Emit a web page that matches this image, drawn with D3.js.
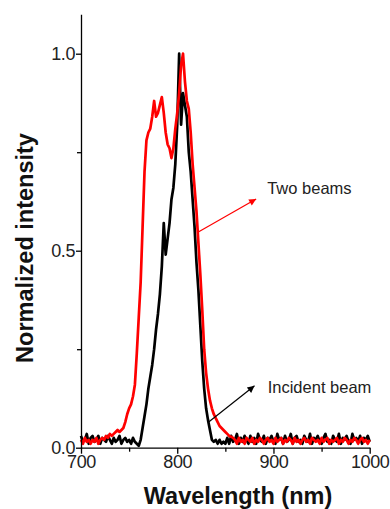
<!DOCTYPE html>
<html>
	<head>
		<meta charset="utf-8">
		<script type="text/javascript" src="https://cdn.jsdelivr.net/npm/d3@7/dist/d3.min.js"></script>
		<style>
			body { margin: 0; background: #fff; }
			text { font-family: "Liberation Sans", Arial, sans-serif; }
		</style>
	</head>
<body>
	<script type="text/javascript">
		// spectra sampled every 2 nm, 700 ... 1000
		var wavelengths = d3.range(700, 1001, 2);

		// "Two beams" (red)
		var twoBeams = [
			// 700 - 750
			.02, .01, .025, .015, .02, .01, .02, .015, .025, .01, .02, .025, .02,
			.03, .025, .035, .03, .035, .04, .045, .04, .045, .05, .065, .085, .10,
			// 752 - 858
			.11, .13, .16, .24, .33, .42, .56, .70, .78, .80,
			.81, .84, .88, .84, .85, .87, .89, .85, .80, .77,
			.76, .735, .76, .81, .85, .90, .97, 1.0, .93, .88,
			.86, .80, .72, .66, .60, .52, .44, .35, .25, .19,
			.15, .12, .10, .085, .075, .065, .055, .05, .045, .04,
			.035, .03, .028, .025,
			// 860 - 1000
			.02, .01, .025, .015, .02, .01, .025, .02, .015, .025,
			.01, .02, .015, .025, .02, .01, .02, .025, .015, .02,
			.01, .025, .015, .02, .025, .01, .02, .015, .025, .02,
			.01, .025, .015, .02, .01, .02, .025, .015, .02, .01,
			.025, .02, .015, .02, .01, .025, .015, .02, .025, .01,
			.02, .015, .02, .025, .01, .02, .015, .025, .02, .01,
			.02, .015, .025, .02, .01, .02, .025, .015, .02, .01,
			.02
		];

		// "Incident beam" (black)
		var incident = [
			// 700 - 756
			.03, .015, .02, .035, .01, .025, .03, .015, .02, .03,
			.01, .025, .02, .015, .03, .02, .01, .025, .015, .02,
			.03, .01, .02, .025, .015, .02, .01, .025, .015,
			// 758 - 850
			.01, .005, .02, .05, .08, .11, .15, .18, .21, .25,
			.30, .34, .39, .46, .57, .49, .53, .57, .63, .66,
			.72, .82, 1.0, .82, .90, .87, .84, .75, .70, .63,
			.56, .47, .40, .31, .22, .15, .10, .07, .045, .02,
			.015, .02, .01, .02, .01, .015, .01,
			// 852 - 1000
			.025, .01, .03, .015, .02, .035, .01, .025, .015, .03,
			.02, .01, .03, .015, .025, .01, .035, .02, .015, .03,
			.01, .025, .02, .03, .015, .01, .035, .02, .025, .01,
			.03, .015, .02, .035, .01, .025, .03, .015, .02, .01,
			.03, .02, .015, .035, .01, .025, .02, .03, .015, .01,
			.025, .035, .015, .02, .01, .03, .02, .015, .035, .01,
			.025, .02, .03, .015, .01, .035, .02, .025, .015, .03,
			.01, .025, .02, .03, .015
		];

		var xMajor = [700, 800, 900, 1000];
		var xMinor = [750, 850, 950];
		var yMajor = [0, 0.5, 1.0];
		var yMinor = [0.25, 0.75];

		// arrow annotations, in data units
		var notes = [
			{ label: "Two beams", color: "#ff0000", from: [821, 0.546], to: [882, 0.631], text: [893.5, 0.644] },
			{ label: "Incident beam", color: "#000000", from: [833, 0.066], to: [880.3, 0.157], text: [894, 0.140] }
		];

		var w = 390;
		var h = 509;
		var padding = {
			left: 81,
			right: 20.3,
			top: 14.3,
			bottom: 61.3
		};

		var xScale = d3.scaleLinear()
			.domain([700, 1000])
			.range([padding.left, w - padding.right]);
		var yScale = d3.scaleLinear()
			.domain([0, 1.1])
			.range([h - padding.bottom, padding.top]);

		var svg = d3.select("body")
			.append("svg")
			.attr("width", w)
			.attr("height", h);

		var defs = svg.append("defs");
		notes.forEach(function (n, i) {
			defs.append("marker")
				.attr("id", "head" + i)
				.attr("viewBox", "0 0 10 10")
				.attr("refX", 10)
				.attr("refY", 5)
				.attr("markerWidth", 10)
				.attr("markerHeight", 7)
				.attr("markerUnits", "userSpaceOnUse")
				.attr("orient", "auto")
				.append("path")
				.attr("d", "M0,0L10,5L0,10Z")
				.attr("fill", n.color);
		});

		// spectra
		var line = d3.line()
			.x(function (d) { return xScale(d[0]); })
			.y(function (d) { return yScale(d[1]); });

		var series = [
			{ values: incident, color: "#000000" },
			{ values: twoBeams, color: "#ff0000" }
		];

		svg.selectAll("path.spectrum")
			.data(series)
			.enter()
			.append("path")
			.attr("class", "spectrum")
			.attr("fill", "none")
			.attr("stroke", function (d) { return d.color; })
			.attr("stroke-width", 2.7)
			.attr("stroke-linejoin", "round")
			.attr("d", function (d) {
				return line(wavelengths.map(function (x, i) { return [x, d.values[i]]; }));
			});

		// axes
		svg.append("g")
			.attr("transform", "translate(0," + yScale(0) + ")")
			.call(d3.axisBottom(xScale).tickValues(xMajor).tickSize(6).tickSizeOuter(0).tickPadding(2).tickFormat(d3.format("d")));
		svg.append("g")
			.attr("transform", "translate(0," + yScale(0) + ")")
			.call(d3.axisBottom(xScale).tickValues(xMinor).tickSize(4).tickSizeOuter(0).tickFormat(""))
			.select(".domain").remove();

		svg.append("g")
			.attr("transform", "translate(" + padding.left + ",0)")
			.call(d3.axisLeft(yScale).tickValues(yMajor).tickSize(5).tickSizeOuter(0).tickPadding(1).tickFormat(d3.format(".1f")));
		svg.append("g")
			.attr("transform", "translate(" + padding.left + ",0)")
			.call(d3.axisLeft(yScale).tickValues(yMinor).tickSize(4).tickSizeOuter(0).tickFormat(""))
			.select(".domain").remove();

		svg.selectAll(".domain, .tick line")
			.attr("stroke", "#000")
			.attr("stroke-width", 1.3);
		svg.selectAll(".tick text")
			.attr("fill", "#222")
			.style("font-size", "18px")
			.style("letter-spacing", "-0.4px");

		// axis titles
		svg.append("text")
			.attr("x", 238)
			.attr("y", 504)
			.attr("text-anchor", "middle")
			.style("font-size", "23.5px")
			.style("font-weight", "bold")
			.attr("fill", "#111")
			.text("Wavelength (nm)");

		svg.append("text")
			.attr("transform", "translate(33,248) rotate(-90)")
			.attr("text-anchor", "middle")
			.style("font-size", "23.5px")
			.style("font-weight", "bold")
			.attr("fill", "#111")
			.text("Normalized intensity");

		// annotations
		notes.forEach(function (n, i) {
			svg.append("line")
				.attr("x1", xScale(n.from[0]))
				.attr("y1", yScale(n.from[1]))
				.attr("x2", xScale(n.to[0]))
				.attr("y2", yScale(n.to[1]))
				.attr("stroke", n.color)
				.attr("stroke-width", 1.2)
				.attr("marker-end", "url(#head" + i + ")");
			svg.append("text")
				.attr("x", xScale(n.text[0]))
				.attr("y", yScale(n.text[1]))
				.attr("fill", "#222")
				.style("font-size", "16.5px")
				.text(n.label);
		});
	</script>
</body>
</html>
